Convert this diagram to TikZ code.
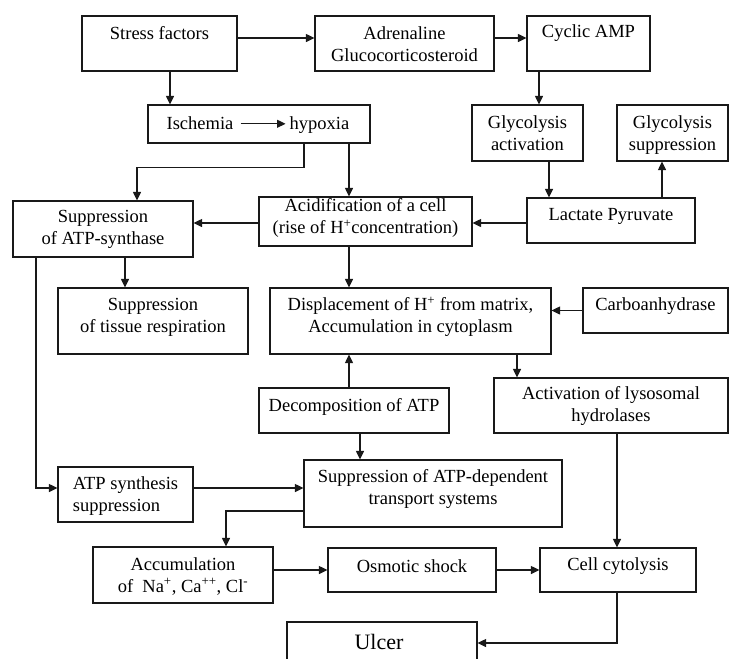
\documentclass[tikz,border=0pt]{standalone}
\usepackage{fontspec}
\setmainfont{Liberation Serif}
\usetikzlibrary{arrows.meta}
\tikzset{
  box/.style={draw=black!90, line width=1.2pt, inner sep=0pt},
  txt/.style={inner sep=0pt, align=center, font=\fontsize{18.5}{22}\selectfont},
  arr/.style={draw=black!90, line width=1.2pt, -{Triangle[length=8.5pt,width=8pt]}},
  ln/.style={draw=black!90, line width=1.2pt}
}
\newcommand{\bx}[7]{%
  \node[box, minimum width=#4pt, minimum height=#5pt] (#1) at (#2,#3) {};
  \node[txt] (#1-t) at (#2,#6) {#7};
}
\begin{document}
\begin{tikzpicture}[x=1pt,y=-1pt]
\useasboundingbox (0,0) rectangle (729,659);
\clip (0,0) rectangle (729,659);
\fill[white] (0,0) rectangle (729,659);

\bx{stress}{159.5}{43.5}{155}{55}{33}{Stress factors}
\bx{adren}{404.5}{43.5}{179}{55}{44}{Adrenaline\\Glucocorticosteroid}
\bx{cyclic}{588.5}{43.5}{123}{55}{33}{Cyclic AMP}
\node[box, minimum width=222pt, minimum height=38pt] (isch) at (259,124) {};
\node[txt, anchor=base] (ischT) at (200,129) {Ischemia};
\node[txt, anchor=base] (hypT) at (319.5,129) {hypoxia};
\bx{glyact}{527.5}{133}{111}{56}{133}{Glycolysis\\activation}
\bx{glysup}{672.5}{133}{111}{56}{135}{Glycolysis\\suppression}
\bx{lact}{611}{220.5}{168}{45}{216}{Lactate Pyruvate}
\bx{acid}{365.5}{221.5}{213}{49}{218}{Acidification of a cell\\(rise of H\textsuperscript{+}concentration)}
\bx{atps}{103}{229}{180}{56}{229}{Suppression\\of ATP-synthase}
\bx{tissue}{153}{321}{190}{66}{317}{Suppression\\of tissue respiration}
\bx{displ}{410.5}{321}{281}{66}{317}{Displacement of H\textsuperscript{+} from matrix,\\Accumulation in cytoplasm}
\bx{carbo}{655.5}{310.5}{145}{45}{306}{Carboanhydrase}
\bx{decomp}{354}{410.5}{190}{45}{407}{Decomposition of ATP}
\bx{activ}{611}{405.5}{234}{55}{406}{Activation of lysosomal\\hydrolases}
\node[box, minimum width=135pt, minimum height=55pt] (atpsyn) at (125.5,494.5) {};
\node[txt, align=left] (atpsyn-t) at (125.5,496) {ATP synthesis\\suppression};
\bx{atpdep}{433}{493.5}{258}{67}{489}{Suppression of ATP-dependent\\transport systems}
\bx{accum}{183}{575}{180}{56}{576}{Accumulation\\of\ \ Na\textsuperscript{+}, Ca\textsuperscript{++}, Cl\textsuperscript{-}}
\bx{osmotic}{412}{570}{168}{44}{566}{Osmotic shock}
\bx{cyto}{618}{570}{156}{44}{566}{Cell cytolysis}
\node[box, minimum width=190pt, minimum height=50pt] (ulcer) at (382,647) {};
\node[txt, font=\fontsize{22}{26}\selectfont] (ulcer-t) at (379,642) {Ulcer};

% connectors
\draw[arr] ([shift={(7,-5.2)}]ischT.base east) -- ([shift={(-4,-5.2)}]hypT.base west);
\draw[arr] ([yshift=5.5pt]stress.east) -- ([yshift=5.5pt]adren.west);
\draw[arr] ([yshift=5.5pt]adren.east) -- ([yshift=5.5pt]cyclic.west);
\draw[arr] ([xshift=10.5pt]stress.south) -- ([xshift=10.5pt]stress.south |- isch.north);
\draw[arr] ([xshift=45pt]isch.south) -- ++(0,24) -| ([xshift=34pt]atps.north);
\draw[arr] ([xshift=90pt]isch.south) -- ([xshift=90pt]isch.south |- acid.north);
\draw[arr] ([xshift=-49.5pt]cyclic.south) -- ([xshift=-49.5pt]cyclic.south |- glyact.north);
\draw[arr] ([xshift=21.5pt]glyact.south) -- ([xshift=21.5pt]glyact.south |- lact.north);
\draw[arr] ([xshift=51pt]lact.north) -- ([xshift=51pt]lact.north |- glysup.south);
\draw[arr] ([yshift=-2.5pt]lact.west) -- ([yshift=-2.5pt]lact.west -| acid.east);
\draw[arr] ([yshift=-1.5pt]acid.west) -- ([yshift=-1.5pt]acid.west -| atps.east);
\draw[arr] ([xshift=22pt]atps.south) -- ([xshift=22pt]atps.south |- tissue.north);
\draw[arr] ([xshift=-67pt]atps.south) |- ([yshift=6.5pt]atpsyn.west);
\draw[arr] ([xshift=-16.5pt]acid.south) -- ([xshift=-16.5pt]acid.south |- displ.north);
\draw[arr] (carbo.west) -- (carbo.west -| displ.east);
\draw[arr] ([xshift=106.5pt]displ.south) -- ([xshift=106.5pt]displ.south |- activ.north);
\draw[arr] ([xshift=-5pt]decomp.north) -- ([xshift=-5pt]decomp.north |- displ.south);
\draw[arr] ([xshift=6pt]decomp.south) -- ([xshift=6pt]decomp.south |- atpdep.north);
\draw[arr] ([yshift=6.5pt]atpsyn.east) -- ([yshift=6.5pt]atpsyn.east -| atpdep.west);
\draw[arr] ([yshift=-17.5pt]atpdep.west) -| ([xshift=43pt]accum.north);
\draw[arr] ([yshift=5pt]accum.east) -- ([yshift=5pt]accum.east -| osmotic.west);
\draw[arr] (osmotic.east) -- (cyto.west);
\draw[arr] ([xshift=6pt]activ.south) -- ([xshift=6pt]activ.south |- cyto.north);
\draw[arr] ([xshift=-1pt]cyto.south) |- ([yshift=4pt]ulcer.east);
\end{tikzpicture}
\end{document}
